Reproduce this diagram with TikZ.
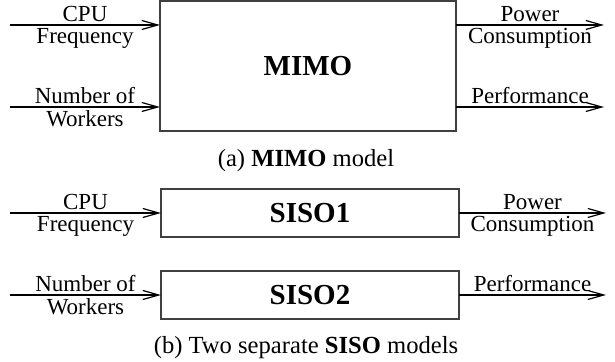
\documentclass[tikz,border=0pt]{standalone}
\usepackage{fontspec}
\setmainfont{Liberation Serif}
\usetikzlibrary{arrows.meta}
\begin{document}
\begin{tikzpicture}[x=0.5pt,y=-0.5pt,
  blk/.style={draw=black!75, line width=0.8pt, inner sep=0pt, outer sep=0pt, font=\fontsize{14.5}{16}\selectfont\bfseries},
  sig/.style={line width=0.6pt, -{Straight Barb[length=8pt,width=4.5pt,line width=0.6pt]}},
  lbl/.style={font=\fontsize{11.5}{13}\selectfont, inner sep=1.5pt, align=center},
  captxt/.style={font=\fontsize{12.3}{14}\selectfont, inner sep=0pt}]
\useasboundingbox (0,0) rectangle (615,362);
% (a) MIMO model
\node[blk, minimum width=148pt, minimum height=65pt] (mimo) at (308,66) {MIMO};
\coordinate (aIn1) at (10,25);
\coordinate (aIn2) at (10,107);
\coordinate (aOut1) at (604,25);
\coordinate (aOut2) at (604,107);
\draw[sig] (aIn1) -- (aIn1 -| mimo.west) node[midway, lbl, above] (la1) {CPU} node[midway, lbl, below] (la2) {Frequency};
\draw[sig] (aIn2) -- (aIn2 -| mimo.west) node[midway, lbl, above] (la3) {Number of} node[midway, lbl, below] (la4) {Workers};
\draw[sig] (aOut1 -| mimo.east) -- (aOut1) node[midway, lbl, above] (la5) {Power} node[midway, lbl, below] (la6) {Consumption};
\draw[sig] (aOut2 -| mimo.east) -- (aOut2) node[midway, lbl, above] (la7) {Performance};
\node[captxt] (capa) at (306,161) {(a) \textbf{MIMO} model};
% (b) SISO models
\node[blk, minimum width=149pt, minimum height=24pt] (siso1) at (310,213) {SISO1};
\node[blk, minimum width=149pt, minimum height=24pt] (siso2) at (310,295) {SISO2};
\coordinate (bIn1) at (10,213);
\coordinate (bIn2) at (10,295);
\coordinate (bOut1) at (606,213);
\coordinate (bOut2) at (606,295);
\draw[sig] (bIn1) -- (bIn1 -| siso1.west) node[midway, lbl, above] (lb1) {CPU} node[midway, lbl, below] (lb2) {Frequency};
\draw[sig] (bIn2) -- (bIn2 -| siso2.west) node[midway, lbl, above] (lb3) {Number of} node[midway, lbl, below] (lb4) {Workers};
\draw[sig] (bOut1 -| siso1.east) -- (bOut1) node[midway, lbl, above] (lb5) {Power} node[midway, lbl, below] (lb6) {Consumption};
\draw[sig] (bOut2 -| siso2.east) -- (bOut2) node[midway, lbl, above] (lb7) {Performance};
\node[captxt] (capb) at (306,348) {(b) Two separate \textbf{SISO} models};
\end{tikzpicture}
\end{document}
